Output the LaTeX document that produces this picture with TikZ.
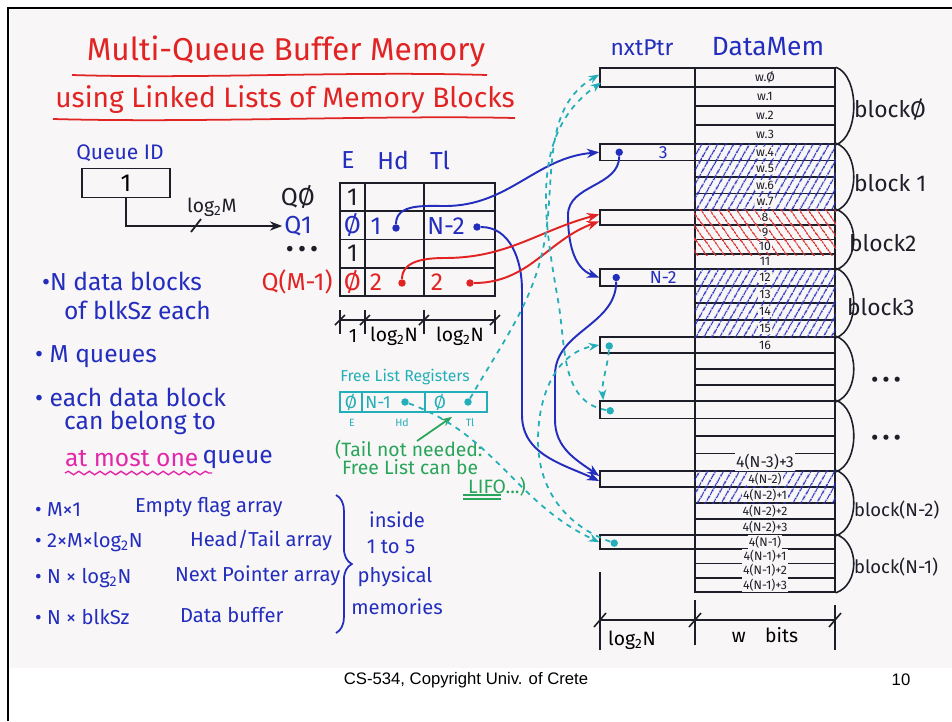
\documentclass[tikz,border=0pt]{standalone}
\usepackage{fontspec}
\setmainfont{Fira Sans}
\newfontfamily\slidefont{Liberation Sans}
\usetikzlibrary{arrows.meta, positioning, calc, patterns.meta, decorations.pathmorphing, decorations.pathreplacing}

\definecolor{ink}{RGB}{30,30,40}
\definecolor{penblue}{RGB}{35,45,190}
\definecolor{penred}{RGB}{225,35,35}
\definecolor{pencyan}{RGB}{35,175,185}
\definecolor{pengreen}{RGB}{40,165,90}
\definecolor{penpink}{RGB}{225,40,170}
\definecolor{paper}{RGB}{248,246,246}

\newcommand{\lgtwo}{log\textsubscript{2}}
\newcommand{\fs}[1]{\fontsize{#1}{#1}\selectfont}

\begin{document}
\begin{tikzpicture}[
x=0.02cm, y=-0.02cm,
every node/.style={inner sep=1pt},
hand/.style={font=\fs{14}},
list/.style={font=\fs{11.5}, text=penblue, anchor=west},
small/.style={font=\fs{11}},
tcell/.style={draw=ink, line width=1.1pt, minimum height=0.565cm, inner sep=0pt},
ptrcell/.style={draw=ink, line width=0.9pt, minimum width=1.9cm, inner sep=0pt},
wcell/.style={draw=ink, line width=0.9pt, minimum width=2.8cm, inner sep=0pt},
fcell/.style={draw=pencyan, line width=0.9pt, minimum height=0.4cm, inner sep=0pt},
dot/.style={circle, fill, inner sep=1.5pt},
wlab/.style={font=\fs{7}, fill=paper, inner sep=0.6pt, text=ink},
blocklab/.style={font=\fs{13}, text=ink, anchor=west},
blueptr/.style={-{Stealth[length=7pt]}, penblue, line width=1.1pt},
redptr/.style={-{Stealth[length=7pt]}, penred, line width=1.1pt},
freeptr/.style={-{Stealth[length=6pt]}, pencyan, line width=1pt, dash pattern=on 3pt off 3pt},
dimline/.style={ink, line width=0.9pt}
]
\useasboundingbox (0,0) rectangle (952,721);
\fill[paper] (10,10) rectangle (952,668);
\draw[black, line width=1.7pt] (8,721) -- (8,8) -- (952,8);

% title
\node[font=\fs{18}, text=penred] (title1) at (286,52) {Multi-Queue Buffer Memory};
\node[font=\fs{16}, text=penred] (title2) at (285,100) {using Linked Lists of Memory Blocks};
\draw[penred, line width=1pt] (72,75) .. controls (200,79) and (350,71) .. (487,75);
\draw[penred, line width=1pt] (53,119) .. controls (200,123) and (380,115) .. (515,118);

% queue id
\node[font=\fs{12}, text=penblue] (qidlab) at (120,153) {Queue ID};
\node[draw=ink, line width=1.1pt, minimum width=1.76cm, minimum height=0.58cm, hand] (qid) at (126,183) {1};
\node[hand, text=ink] (q0lab) at (298,197) {QØ};
\node[hand, text=penblue] (q1lab) at (298,226) {Q1};
\node[hand, text=ink] (qdots) at (302,252) {•\,•\,•};
\node[hand, text=penred] (qmlab) at (297,282) {Q(M-1)};
\draw[ink, line width=1pt, -{Stealth[length=7pt]}] (qid.south) |- (q1lab.west);
\node[small, text=ink] (lgm) at (212,207) {\lgtwo M};
\draw[ink, line width=1pt] (191,232) -- (201,219);

% head / tail table
\node[hand, text=penblue] (hE) at (348,160) {E};
\node[hand, text=penblue] (hHd) at (393,160) {Hd};
\node[hand, text=penblue] (hTl) at (440,160) {Tl};
\foreach \r in {0,...,3}{
  \pgfmathsetmacro{\yy}{183+28.25*(\r+0.5)}
  \node[tcell, minimum width=0.5cm] (E\r) at (352.5,\yy) {};
  \node[tcell, minimum width=1.18cm] (H\r) at (394.5,\yy) {};
  \node[tcell, minimum width=1.42cm] (T\r) at (459.5,\yy) {};
}
\node[hand, text=ink] (e0v) at (E0) {1};
\node[hand, text=penblue] (e1v) at (E1) {Ø};
\node[hand, text=ink] (e2v) at (E2) {1};
\node[hand, text=penred] (e3v) at (E3) {Ø};
\node[hand, text=penblue] (h1v) at (376,226) {1};
\node[dot, penblue] (dH1) at (396,228) {};
\node[hand, text=penblue] (t1v) at (446,226) {N-2};
\node[dot, penblue] (dT1) at (477,227) {};
\node[hand, text=penred] (h3v) at (376,282) {2};
\node[dot, penred] (dH3) at (402,283) {};
\node[hand, text=penred] (t3v) at (437,282) {2};
\node[dot, penred] (dT3) at (470,283) {};

\draw[dimline] (340,320) -- (495,320);
\foreach \x in {340,365,424,495}{
  \draw[dimline] (\x,310) -- (\x,334);
  \draw[dimline] (\x-5,325) -- (\x+5,315);
}
\node[small] (dimE) at (353,336) {1};
\node[small] (dimH) at (394,336) {\lgtwo N};
\node[small] (dimT) at (460,336) {\lgtwo N};

% free list registers
\node[font=\fs{9}, text=pencyan] (flab) at (405,377) {Free List Registers};
\node[fcell, minimum width=0.44cm] (F0) at (351,402) {};
\node[fcell, minimum width=1.26cm] (F1) at (393.5,402) {};
\node[fcell, minimum width=1.24cm] (F2) at (456,402) {};
\node[font=\fs{10}, text=pencyan] (f0v) at (F0) {Ø};
\node[font=\fs{10}, text=pencyan] (f1v) at (378,402) {N-1};
\node[dot, pencyan] (dFH) at (405,402) {};
\node[font=\fs{10}, text=pencyan] (f2v) at (440,402) {Ø};
\node[dot, pencyan] (dFT) at (468,402) {};
\node[font=\fs{6}, text=pencyan] (fE) at (352,423) {E};
\node[font=\fs{6}, text=pencyan] (fHd) at (402,423) {Hd};
\node[font=\fs{6}, text=pencyan] (fTl) at (470,423) {Tl};

\node[font=\fs{11}, text=pengreen, align=left, anchor=north west] (note) at (333,438) {(Tail not needed:\\[-1pt]\hspace*{4pt}Free List can be};
\node[font=\fs{11}, text=pengreen] (lifo) at (497,487) {LIFO...)};
\draw[pengreen, line width=0.8pt] (463,495) -- (501,495);
\draw[pengreen, line width=0.8pt] (463,499) -- (501,499);
\coordinate (notetip) at (417,441);
\draw[pengreen, line width=1pt, -{Stealth[length=6pt]}] (notetip) -- ($(F2.south)+(-4,4)$);

% left notes
\node[hand, text=penblue, anchor=west] (n1) at (40,281) {•N data blocks};
\node[hand, text=penblue, anchor=west] (n2) at (62,310) {of blkSz each};
\node[hand, text=penblue, anchor=west] (n3) at (33,357) {• M queues};
\node[hand, text=penblue, anchor=west] (n4) at (33,397) {• each data block};
\node[hand, text=penblue, anchor=west] (n5) at (62,423) {can belong to};
\node[hand, text=penpink, anchor=west] (n6) at (63,459) {at most one};
\node[hand, text=penblue, anchor=west] (n7) at (n6.east) {queue};
\draw[penpink, line width=0.8pt, decorate, decoration={snake, amplitude=1pt, segment length=6pt}] (65,473) -- (212,473);

% bottom list
\node[list] (m1a) at (33,510) {• M×1};
\node[list] (m1b) at (133,507) {Empty flag array};
\node[list] (m2a) at (33,542) {• 2×M×\lgtwo N};
\node[list] (m2b) at (188,540) {Head/Tail array};
\node[list] (m3a) at (33,578) {• N × \lgtwo N};
\node[list] (m3b) at (173,576) {Next Pointer array};
\node[list] (m4a) at (33,617) {• N × blkSz};
\node[list] (m4b) at (178,615) {Data buffer};
\draw[penblue, line width=1pt, decorate, decoration={brace, amplitude=9pt}] (336,495) -- (336,633);
\node[list, anchor=center] (p1) at (397,520) {inside};
\node[list, anchor=center] (p2) at (391,547) {1 to 5};
\node[list, anchor=center] (p3) at (395,577) {physical};
\node[list, anchor=center] (p4) at (397,607) {memories};

% next pointer and data memory
\node[font=\fs{13}, text=penblue] (hptr) at (642,48) {nxtPtr};
\node[font=\fs{15}, text=penblue] (hmem) at (768,47) {DataMem};
\foreach \b/\ya/\yb in {0/68/144,1/144/210,2/210/269,3/269/337,4/337/401,5/401/471,6/471/535,7/535/592}{
  \pgfmathsetmacro{\hh}{(\yb-\ya)/4}
  \node[ptrcell, minimum height=\hh*0.02cm] (ptr\b) at (647.5,\ya+\hh/2) {};
  \foreach \r in {0,...,3}{
    \node[wcell, minimum height=\hh*0.02cm] (w\b\r) at (765,\ya+\hh*\r+\hh/2) {};
  }
  \draw[ink, line width=0.9pt] (w\b0.north east) .. controls +(24,8) and +(24,-8) .. (w\b3.south east);
}
\foreach \c/\col/\ang in {w10/penblue/60,w11/penblue/60,w12/penblue/60,w13/penblue/60,w20/penred/125,w21/penred/125,w22/penred/125,w30/penblue/60,w31/penblue/60,w32/penblue/60,w33/penblue/60,w60/penblue/60,w61/penblue/60}
  \fill[pattern={Lines[angle=\ang,distance=4pt,line width=0.8pt]}, pattern color=\col] (\c.north west) rectangle (\c.south east);
\foreach \c/\t in {w00/w.Ø,w01/w.1,w02/w.2,w03/w.3,w10/w.4,w11/w.5,w12/w.6,w13/w.7,w20/8,w21/9,w22/10,w23/11,w30/12,w31/13,w32/14,w33/15,w40/16,w60/4(N-2),w61/4(N-2)+1,w62/4(N-2)+2,w63/4(N-2)+3,w70/4(N-1),w71/4(N-1)+1,w72/4(N-1)+2,w73/4(N-1)+3}
  \node[wlab] (l\c) at (\c) {\t};
\node[wlab, font=\fs{9}] (lw53) at (w53) {4(N-3)+3};

\node[dot, penblue] (d1) at ($(ptr1.west)+(20,0)$) {};
\node[font=\fs{10}, text=penblue] (v1) at ($(ptr1.west)+(64,0)$) {3};
\node[dot, penblue] (d3) at ($(ptr3.west)+(17,0)$) {};
\node[font=\fs{10}, text=penblue] (v3) at ($(ptr3.west)+(64,0)$) {N-2};
\node[dot, pencyan] (d4) at ($(ptr4.west)+(10,1)$) {};
\node[dot, pencyan] (d5) at ($(ptr5.west)+(11,1)$) {};
\node[dot, pencyan] (d7) at ($(ptr7.west)+(15,1)$) {};

\node[blocklab] (b0) at (852,110) {blockØ};
\node[blocklab] (b1) at (852,183) {block 1};
\node[blocklab] (b2) at (847,243) {block2};
\node[blocklab] (b3) at (845,307) {block3};
\node[blocklab, anchor=center] (bd1) at (886,382) {•\,•\,•};
\node[blocklab, anchor=center] (bd2) at (886,440) {•\,•\,•};
\node[blocklab, font=\fs{10.5}] (b6) at (852,510) {block(N-2)};
\node[blocklab, font=\fs{10.5}] (b7) at (852,567) {block(N-1)};

\draw[dimline] (600,572) -- (600,650);
\draw[dimline] (695,600) -- (695,645);
\draw[dimline] (835,605) -- (835,650);
\draw[dimline] (600,620) -- (835,620);
\foreach \x in {600,695,835}
  \draw[dimline] (\x-6,627) -- (\x+6,613);
\node[small] (dimp) at (632,640) {\lgtwo N};
\node[small] (dimw) at (765,635) {w\quad bits};

% queue pointers
\draw[blueptr] (dH1) to[out=90,in=180] (445,206) to[out=0,in=185] (ptr1.west);
\draw[blueptr] (d1) to[out=-90,in=90] (568,215) to[out=-90,in=160] (ptr3.west);
\draw[blueptr] (dT1) to[out=0,in=90] (522,290) -- (522,415) to[out=-90,in=155] ($(ptr6.west)+(0,2)$);
\draw[blueptr] (d3) to[out=-90,in=90] (555,375) -- (555,420) to[out=-90,in=145] ($(ptr6.west)+(0,-3)$);
\draw[redptr] (dH3) to[out=90,in=180] (445,258) to[out=0,in=195] ($(ptr2.west)+(0,-3)$);
\draw[redptr] (dT3) to[out=0,in=200] ($(ptr2.west)+(0,4)$);

% free list
\draw[freeptr] (dFT) to[out=60,in=-95] (548,215) to[out=85,in=210] ($(ptr0.west)+(0,-3)$);
\draw[freeptr] (d5) to[out=170,in=-80] (558,300) to[out=100,in=215] ($(ptr0.west)+(2,5)$);
\draw[freeptr] (d4) to[out=-95,in=95] ($(ptr5.north west)+(4,0)$);
\draw[freeptr] (d7) to[out=160,in=-90] (538,440) to[out=90,in=190] (ptr4.west);
\draw[freeptr] (dFH) to[out=-20,in=155] (ptr7.west);

% footer
\node[font=\slidefont\fs{9.5}] (footer) at (466,680) {CS-534, Copyright Univ. of Crete};
\node[font=\slidefont\fs{9.5}] (pagenum) at (901,680) {10};
\end{tikzpicture}
\end{document}
